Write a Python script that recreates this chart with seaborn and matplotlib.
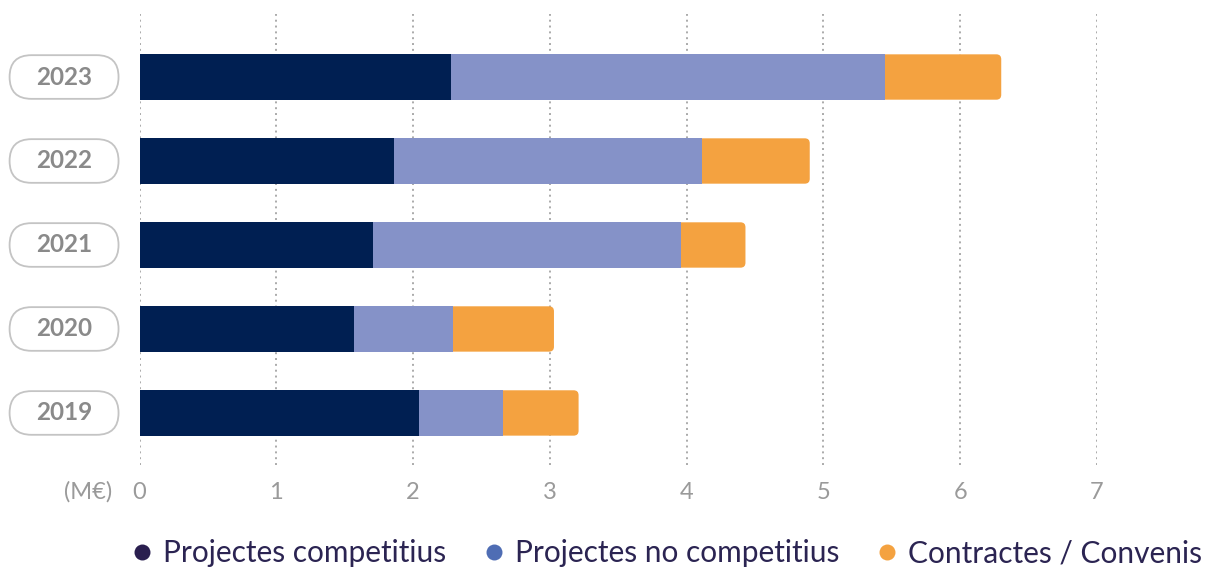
import numpy as np
import pandas as pd
import seaborn as sns
import matplotlib.pyplot as plt
import matplotlib.transforms as mtransforms
from matplotlib.patches import FancyBboxPatch
from matplotlib.lines import Line2D

# Funding by year (M€), split by source
years = ["2023", "2022", "2021", "2020", "2019"]
competitius = [2.28, 1.86, 1.71, 1.57, 2.04]
no_competitius = [3.17, 2.25, 2.25, 0.72, 0.62]
contractes = [0.85, 0.79, 0.47, 0.74, 0.55]
series_labels = ["Projectes competitius", "Projectes no competitius", "Contractes / Convenis"]
x_ticks = [0, 1, 2, 3, 4, 5, 6, 7]
unit_label = "(M€)"

NAVY = "#001f52"
LIGHT = "#8592c8"
ORANGE = "#f4a240"
LEGEND_COLORS = ["#2a1f4f", "#4f6db4", "#f4a240"]
GREY = "#9a9a9a"

sns.set_theme(style="white")
plt.rcParams["font.family"] = ["Lato", "DejaVu Sans"]

df = pd.DataFrame({"year": years})
df["c1"] = np.array(competitius)
df["c2"] = df["c1"] + np.array(no_competitius)
df["c3"] = df["c2"] + np.array(contractes)

fig = plt.figure(figsize=(12.1, 5.72), dpi=100)
ax = fig.add_axes([0.1153, 0.187, 0.7913, 0.7885])

# stacked bars: draw cumulative totals from outermost segment inwards
orange_patches = []
for col, color in [("c3", ORANGE), ("c2", LIGHT), ("c1", NAVY)]:
    n0 = len(ax.patches)
    sns.barplot(data=df, x=col, y="year", order=years, orient="h", color=color,
                saturation=1, width=0.54, linewidth=0, ax=ax, zorder=3)
    if col == "c3":
        orange_patches = list(ax.patches[n0:])

# soften the right end of the outer segment
for p in orange_patches:
    x, y, w, h = p.get_x(), p.get_y(), p.get_width(), p.get_height()
    p.remove()
    ax.add_patch(FancyBboxPatch((x, y), w, h,
                                boxstyle="round,pad=0,rounding_size=0.036",
                                mutation_aspect=1.63, fc=ORANGE, ec="none", zorder=2.5))

ax.set_xlim(0, 7)
ax.set_ylim(4.62, -0.75)
ax.set_xticks(x_ticks)
ax.set_xticklabels([str(t) for t in x_ticks], color=GREY, fontsize=17)
ax.tick_params(axis="x", length=0, pad=12)
ax.set_yticks([])
ax.set_xlabel("")
ax.set_ylabel("")
for s in ax.spines.values():
    s.set_visible(False)
ax.grid(axis="x", linestyle=(0, (1, 2)), color="#aaaaaa", linewidth=1.4, zorder=0)
ax.grid(axis="y", visible=False)

# year labels in pill outlines left of the axis
trans = mtransforms.blended_transform_factory(ax.transAxes, ax.transData)
px0, pw = -0.1357, 0.1138
for i, yr in enumerate(years):
    ax.add_patch(FancyBboxPatch((px0, i - 0.26), pw, 0.52,
                                boxstyle="round,pad=0,rounding_size=0.0228",
                                mutation_aspect=11.4, transform=trans,
                                fc="white", ec="#c4c4c4", lw=1.3, clip_on=False))
    ax.text(px0 + pw / 2, i, yr, transform=trans, ha="center", va="center",
            fontsize=17.5, fontweight="bold", color="#8a8a8a", clip_on=False)

fig.text(88 / 1210, 1 - 492 / 572, unit_label, ha="center", va="center",
         fontsize=17, color=GREY)

handles = [Line2D([], [], marker="o", linestyle="", markersize=11.5,
                  markerfacecolor=c, markeredgecolor="none") for c in LEGEND_COLORS]
fig.legend(handles, series_labels, loc="center", bbox_to_anchor=(0.549, 0.033),
           ncol=3, frameon=False, fontsize=21.5, labelcolor="#2b2452",
           handletextpad=0.2, columnspacing=1.1, handlelength=1.0,
           borderpad=0, borderaxespad=0)

fig.savefig("out.png", dpi=100)
